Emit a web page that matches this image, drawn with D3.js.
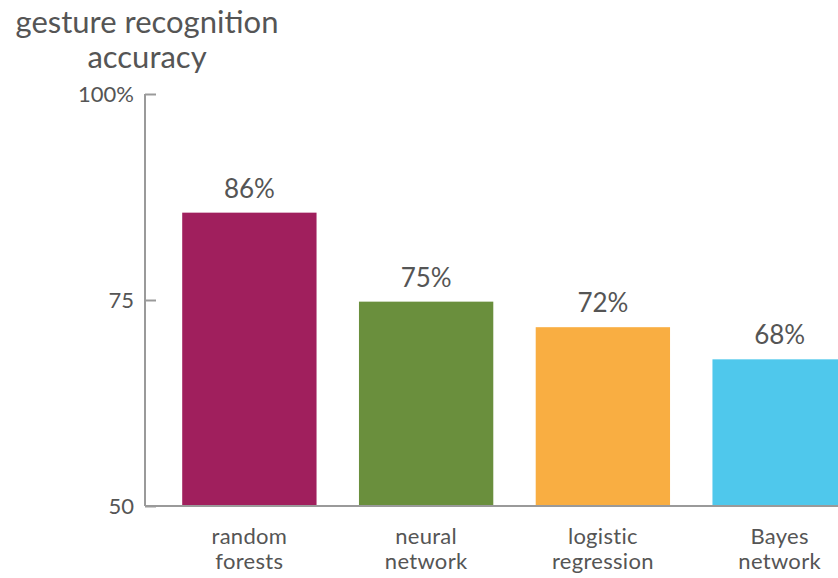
<!DOCTYPE html>
<html>
<head>
<meta charset="utf-8">
<script src="https://cdn.jsdelivr.net/npm/d3@7"></script>
<style>
  body { margin: 0; background: #fff; }
  svg { display: block; font-family: Lato, 'Open Sans', sans-serif; }
</style>
</head>
<body>
<svg id="chart"></svg>
<script>
const categories = [['random', 'forests'], ['neural', 'network'], ['logistic', 'regression'], ['Bayes', 'network']]
const accuracy = [85.6, 74.8, 71.7, 67.8]
const barColors = ['#a01f5d', '#6a8f3d', '#f9ae42', '#4fc8ec']
const yTicks = [50, 75, 100]
const yTickLabels = ['50', '75', '100%']

const width = 838, height = 578
const textColor = '#555'
const axisColor = '#9a9a9a'

const svg = d3.select('#chart').attr('width', width).attr('height', height)

const x = d3.scaleBand()
  .domain(d3.range(categories.length))
  .range([161, 868])
  .paddingInner(0.24)
  .paddingOuter(0.12)

const y = d3.scaleLinear().domain([50, 100]).range([506, 94])

// title
svg.append('text')
  .attr('x', 147).attr('y', 33)
  .attr('text-anchor', 'middle')
  .attr('fill', textColor)
  .style('font-size', '31px')
  .text('gesture recognition')
svg.append('text')
  .attr('x', 147).attr('y', 68)
  .attr('text-anchor', 'middle')
  .attr('fill', textColor)
  .style('font-size', '31px')
  .text('accuracy')

// bars
svg.append('g')
  .selectAll('rect')
  .data(accuracy).enter().append('rect')
  .attr('x', (d, i) => x(i))
  .attr('y', d => y(d))
  .attr('width', x.bandwidth())
  .attr('height', d => y(50) - y(d))
  .attr('fill', (d, i) => barColors[i])

// value labels
svg.append('g')
  .selectAll('text')
  .data(accuracy).enter().append('text')
  .attr('x', (d, i) => x(i) + x.bandwidth() / 2)
  .attr('y', d => y(d) - 15)
  .attr('text-anchor', 'middle')
  .attr('fill', textColor)
  .style('font-size', '26px')
  .text(d => Math.round(d) + '%')

// y axis
const yAxis = d3.axisRight(y)
  .tickValues(yTicks)
  .tickSize(11)
  .tickFormat('')
const gy = svg.append('g')
  .attr('transform', 'translate(145,0)')
  .call(yAxis)
gy.select('.domain').remove()
gy.selectAll('.tick line').attr('stroke', axisColor).attr('stroke-width', 2)
gy.append('line')
  .attr('x1', 0).attr('x2', 0)
  .attr('y1', y(100)).attr('y2', y(50))
  .attr('stroke', axisColor).attr('stroke-width', 2)

svg.append('g')
  .selectAll('text')
  .data(yTicks).enter().append('text')
  .attr('x', 134)
  .attr('y', d => y(d) + 8)
  .attr('text-anchor', 'end')
  .attr('fill', textColor)
  .style('font-size', '22px')
  .text((d, i) => yTickLabels[i])

// baseline
svg.append('line')
  .attr('x1', 145).attr('x2', width)
  .attr('y1', y(50)).attr('y2', y(50))
  .attr('stroke', axisColor).attr('stroke-width', 2)

// category labels
const cat = svg.append('g')
  .selectAll('text')
  .data(categories).enter().append('text')
  .attr('text-anchor', 'middle')
  .attr('fill', textColor)
  .style('font-size', '22px')
  .style('letter-spacing', '0.3px')
cat.selectAll('tspan')
  .data((d, i) => d.map(t => ({ t, i })))
  .enter().append('tspan')
  .attr('x', d => x(d.i) + x.bandwidth() / 2)
  .attr('y', (d, j) => 544 + j * 25)
  .text(d => d.t)
</script>
</body>
</html>
